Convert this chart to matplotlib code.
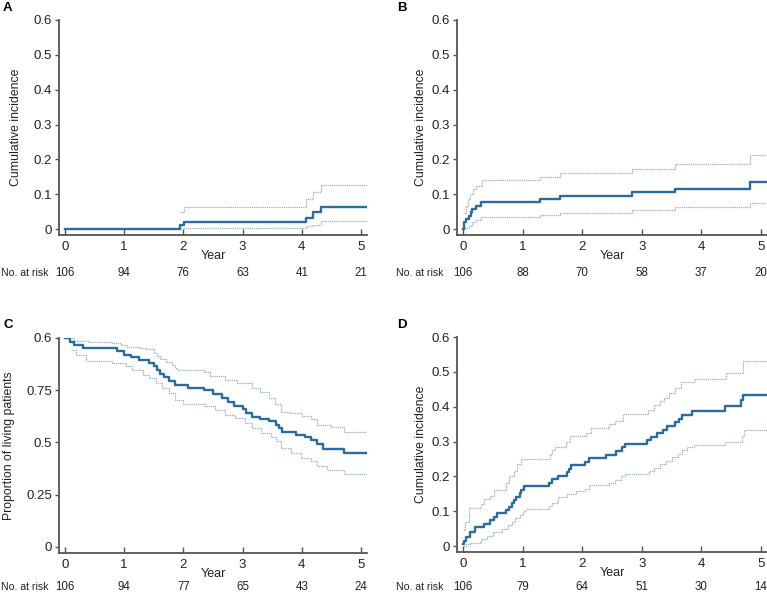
import matplotlib
matplotlib.use('Agg')
import matplotlib.pyplot as plt

plt.rcParams['font.family'] = ['Liberation Sans', 'DejaVu Sans']

years = [0, 1, 2, 3, 4, 5]
risk_a = [106, 94, 76, 63, 41, 21]
risk_b = [106, 88, 70, 58, 37, 20]
risk_c = [106, 94, 77, 65, 43, 24]
risk_d = [106, 79, 64, 51, 30, 14]

# panel A - cumulative incidence
a_t = [0, 1.95, 2.01, 4.07, 4.18, 4.32]
a_est = [0, 0.011, 0.020, 0.033, 0.048, 0.062]
a_up_t = [1.95, 2.01, 4.07, 4.18, 4.32]
a_up = [0.048, 0.063, 0.086, 0.106, 0.127]
a_lo_t = [1.95, 2.01, 4.07, 4.18, 4.32]
a_lo = [0.001, 0.004, 0.008, 0.013, 0.022]

# panel B
b_t = [0, 0.01, 0.02, 0.05, 0.1, 0.13, 0.15, 0.22, 0.3, 1.29, 1.63, 2.84, 3.55, 4.81]
b_est = [0, 0.01, 0.02, 0.029, 0.038, 0.048, 0.058, 0.067, 0.077, 0.087, 0.096, 0.106, 0.116, 0.136]
b_up_t = [0.0, 0.05, 0.08, 0.12, 0.17, 0.22, 0.32, 1.29, 1.63, 2.84, 3.55, 4.81]
b_up = [0.045, 0.065, 0.085, 0.1, 0.115, 0.125, 0.14, 0.15, 0.16, 0.172, 0.188, 0.214]
b_lo_t = [0.0, 0.03, 0.1, 0.15, 0.22, 0.3, 1.29, 1.63, 2.84, 3.55, 4.81]
b_lo = [0.0, 0.004, 0.01, 0.02, 0.027, 0.034, 0.04, 0.046, 0.055, 0.064, 0.075]

# panel C - survival
c_t = [0, 0.08, 0.15, 0.3, 0.88, 1.0, 1.12, 1.25, 1.42, 1.5, 1.55, 1.6, 1.68, 1.75,
       1.85, 2.08, 2.35, 2.5, 2.65, 2.75, 2.85, 3.0, 3.05, 3.15, 3.3, 3.45, 3.57,
       3.62, 3.66, 3.9, 4.05, 4.15, 4.25, 4.35, 4.72]
c_est = [1.0, 0.98, 0.965, 0.952, 0.936, 0.92, 0.909, 0.893, 0.88, 0.865, 0.848,
         0.83, 0.812, 0.795, 0.773, 0.76, 0.749, 0.733, 0.712, 0.696, 0.676, 0.66,
         0.64, 0.62, 0.613, 0.604, 0.585, 0.569, 0.55, 0.537, 0.525, 0.513, 0.492,
         0.47, 0.45]
c_up_t = [0, 0.15, 0.4, 0.8, 0.95, 1.05, 1.25, 1.35, 1.5, 1.55, 1.6, 1.7, 1.8, 1.85,
          1.9, 2.35, 2.45, 2.7, 2.9, 3.15, 3.3, 3.45, 3.55, 3.65, 3.8, 4.0, 4.15,
          4.25, 4.5, 4.72]
c_up = [1.0, 0.985, 0.98, 0.975, 0.965, 0.955, 0.95, 0.945, 0.93, 0.915, 0.9, 0.885,
        0.87, 0.855, 0.845, 0.835, 0.82, 0.8, 0.785, 0.76, 0.74, 0.715, 0.685, 0.645,
        0.64, 0.625, 0.61, 0.585, 0.575, 0.551]
c_lo_t = [0.11, 0.19, 0.36, 0.8, 1.03, 1.14, 1.31, 1.42, 1.53, 1.64, 1.75, 1.86, 1.99,
          2.37, 2.53, 2.7, 2.87, 3.04, 3.15, 3.31, 3.48, 3.57, 3.65, 3.82, 3.98, 4.15,
          4.26, 4.43, 4.71]
c_lo = [0.944, 0.92, 0.891, 0.88, 0.864, 0.848, 0.824, 0.808, 0.784, 0.76, 0.736,
        0.704, 0.684, 0.673, 0.657, 0.633, 0.617, 0.593, 0.569, 0.545, 0.524, 0.505,
        0.473, 0.449, 0.425, 0.409, 0.385, 0.369, 0.348]

# panel D
d_t = [0, 0.02, 0.05, 0.12, 0.2, 0.35, 0.45, 0.52, 0.57, 0.73, 0.78, 0.82, 0.86, 0.89,
       0.95, 0.98, 1.02, 1.45, 1.5, 1.6, 1.75, 1.78, 1.82, 2.05, 2.12, 2.4, 2.56, 2.66,
       2.72, 3.08, 3.15, 3.25, 3.36, 3.43, 3.56, 3.62, 3.67, 3.85, 4.4, 4.66, 4.7]
d_est = [0.005, 0.015, 0.025, 0.04, 0.055, 0.064, 0.074, 0.084, 0.094, 0.104, 0.113,
         0.123, 0.132, 0.142, 0.152, 0.162, 0.172, 0.182, 0.192, 0.202, 0.212, 0.222,
         0.232, 0.242, 0.252, 0.262, 0.274, 0.284, 0.294, 0.304, 0.314, 0.324, 0.334,
         0.345, 0.355, 0.365, 0.377, 0.389, 0.402, 0.42, 0.433]
d_up_t = [0.0, 0.03, 0.1, 0.3, 0.36, 0.45, 0.52, 0.72, 0.78, 0.85, 0.9, 0.98, 1.46,
          1.5, 1.54, 1.72, 1.79, 2.07, 2.15, 2.45, 2.55, 2.68, 3.1, 3.2, 3.3, 3.38, 3.45,
          3.55, 3.65, 3.88, 4.42, 4.7]
d_up = [0.045, 0.07, 0.11, 0.12, 0.135, 0.145, 0.16, 0.18, 0.2, 0.215, 0.235, 0.25,
        0.265, 0.275, 0.285, 0.3, 0.315, 0.325, 0.34, 0.35, 0.36, 0.38, 0.39, 0.405,
        0.415, 0.425, 0.44, 0.455, 0.47, 0.48, 0.497, 0.532]
d_lo_t = [0.0, 0.05, 0.12, 0.3, 0.4, 0.5, 0.65, 0.75, 0.82, 0.88, 0.95, 1.0, 1.05, 1.45,
          1.5, 1.6, 1.75, 1.9, 2.05, 2.12, 2.45, 2.55, 2.65, 2.72, 3.12, 3.2, 3.3, 3.4,
          3.5, 3.6, 3.67, 3.75, 3.88, 4.4, 4.68, 4.72]
d_lo = [0.0, 0.005, 0.01, 0.02, 0.03, 0.04, 0.05, 0.06, 0.07, 0.08, 0.09, 0.1, 0.107,
        0.115, 0.125, 0.14, 0.15, 0.158, 0.165, 0.175, 0.18, 0.19, 0.2, 0.208, 0.215,
        0.225, 0.235, 0.245, 0.255, 0.265, 0.275, 0.285, 0.29, 0.3, 0.315, 0.332]

MAIN = '#2b6c9c'
CI = '#9cb1be'
SPINE = '#555555'
TXT = '#222222'
W, H = 767, 594


def ext(t, v):
    return list(t) + [5.1], list(v) + [v[-1]]


def panel(rect, letter, ylabel, est, up, lo, risk, yticks, yticklabels, ylim,
          letter_xy, risk_pos):
    ax = fig.add_axes(rect)
    for t, v in [up, lo]:
        x, y = ext(t, v)
        ax.step(x, y, where='post', color=CI, lw=0.9, linestyle=(0, (1, 0.7)))
    x, y = ext(*est)
    ax.step(x, y, where='post', color=MAIN, lw=1.7)
    ax.set_xlim(-0.1, 5.1)
    ax.set_ylim(*ylim)
    ax.set_yticks(yticks)
    ax.set_yticklabels(yticklabels)
    ax.set_xticks(years)
    for s in ['top', 'right']:
        ax.spines[s].set_visible(False)
    for s in ['left', 'bottom']:
        ax.spines[s].set_color(SPINE)
        ax.spines[s].set_linewidth(1.3)
    ax.tick_params(axis='y', direction='out', length=3, width=1, color=SPINE,
                   labelsize=9.5, pad=2, labelcolor=TXT)
    ax.tick_params(axis='x', direction='in', length=4, width=1, color=SPINE,
                   labelsize=9.5, pad=4.5, labelcolor=TXT)
    ax.set_ylabel(ylabel, fontsize=8.8, color=TXT)
    ax.set_xlabel('Year', fontsize=9, color=TXT, labelpad=-2.5)
    for yr, n in zip(years, risk):
        ax.text(yr, risk_pos[1], str(n), transform=ax.get_xaxis_transform(),
                ha='center', va='center', fontsize=8.3, color=TXT)
    fig.text(risk_pos[0] / W, 1 - risk_pos[2] / H, 'No. at risk', ha='left', va='center',
             fontsize=7.6, color=TXT)
    fig.text(letter_xy[0] / W, 1 - letter_xy[1] / H, letter, fontsize=9.5,
             fontweight='bold', ha='left', va='center')
    return ax


fig = plt.figure(figsize=(W / 100, H / 100), dpi=100)

inc_ticks = [0, 0.1, 0.2, 0.3, 0.4, 0.5, 0.6]
inc_labels = ['0', '0.1', '0.2', '0.3', '0.4', '0.5', '0.6']

axA = panel([59 / W, 1 - 235 / H, 308 / W, 215 / H], 'A', 'Cumulative incidence',
            (a_t, a_est), (a_up_t, a_up), (a_lo_t, a_lo), risk_a,
            inc_ticks, inc_labels, (-0.017, 0.6), (3, 8), (1, -0.177, 273))
axA.yaxis.set_label_coords(-0.12, 0.5)

axB = panel([457 / W, 1 - 235 / H, 310 / W, 215 / H], 'B', 'Cumulative incidence',
            (b_t, b_est), (b_up_t, b_up), (b_lo_t, b_lo), risk_b,
            inc_ticks, inc_labels, (-0.017, 0.6), (397, 8), (396, -0.177, 273))
axB.yaxis.set_label_coords(-0.097, 0.5)

axC = panel([59 / W, 1 - 553 / H, 308 / W, 215 / H], 'C', 'Proportion of living patients',
            (c_t, c_est), (c_up_t, c_up), (c_lo_t, c_lo), risk_c,
            [0, 0.25, 0.5, 0.75, 1.0], ['0', '0.25', '0.5', '0.75', '0.6'],
            (-0.029, 1.0), (3, 325), (1, -0.158, 587))
axC.yaxis.set_label_coords(-0.143, 0.5)

axD = panel([457 / W, 1 - 552 / H, 310 / W, 215 / H], 'D', 'Cumulative incidence',
            (d_t, d_est), (d_up_t, d_up), (d_lo_t, d_lo), risk_d,
            inc_ticks, inc_labels, (-0.017, 0.6), (397, 325), (396, -0.163, 587))
axD.yaxis.set_label_coords(-0.097, 0.5)

fig.savefig('out.png', dpi=100)
